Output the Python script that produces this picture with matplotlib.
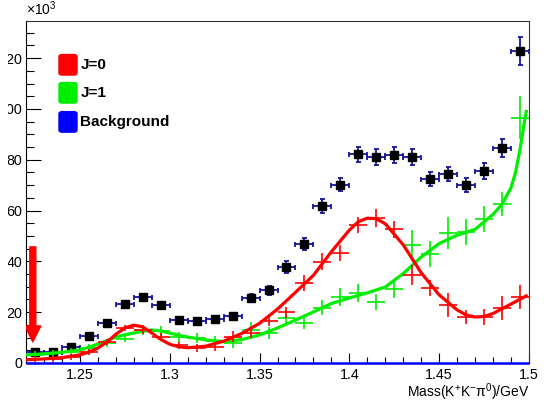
import matplotlib
matplotlib.use('Agg')
import matplotlib.pyplot as plt
from matplotlib.patches import FancyBboxPatch, FancyArrowPatch, Rectangle
from matplotlib.ticker import MultipleLocator, FuncFormatter

plt.rcParams['font.family'] = ['Liberation Sans', 'DejaVu Sans']
plt.rcParams['mathtext.fontset'] = 'custom'
plt.rcParams['mathtext.rm'] = 'Liberation Sans'

# bin centres, GeV
mass = [1.225, 1.235, 1.245, 1.255, 1.265, 1.275, 1.285, 1.295, 1.305, 1.315,
        1.325, 1.335, 1.345, 1.355, 1.365, 1.375, 1.385, 1.395, 1.405, 1.415,
        1.425, 1.435, 1.445, 1.455, 1.465, 1.475, 1.485, 1.495]

# all events (x1e3)
total = [4.3, 4.3, 6.3, 10.6, 15.7, 23.3, 26.0, 22.8, 16.9, 16.5,
         17.3, 18.5, 25.6, 28.7, 37.8, 46.8, 61.8, 70.1, 82.1, 81.1,
         81.9, 81.1, 72.4, 74.4, 70.1, 75.6, 84.6, 122.8]
total_err = [1.0, 1.0, 1.0, 1.0, 1.0, 1.0, 1.0, 1.0, 1.0, 1.0,
             1.0, 1.0, 1.4, 1.8, 2.2, 2.3, 2.6, 2.6, 3.0, 3.0,
             3.0, 3.0, 2.9, 2.9, 2.9, 3.0, 3.7, 5.6]

# J=0 component
j0 = [1.5, 1.7, 2.5, 4.2, 8.1, 13.6, 12.8, 10.2, 6.9, 6.0,
      6.3, 10.4, 12.0, 16.5, 19.9, 31.5, 39.8, 43.3, 54.3, 57.0,
      52.6, 34.6, 29.5, 22.8, 18.1, 18.1, 21.7, 26.0]
j0_err = [1.2, 1.2, 1.2, 1.2, 1.2, 1.2, 1.5, 1.5, 1.5, 1.5,
          1.5, 2.0, 2.0, 2.0, 2.0, 3.0, 3.3, 3.3, 3.0, 3.6,
          3.3, 3.9, 3.3, 4.6, 2.6, 3.0, 4.6, 4.8]

# J=1 component
j1 = [3.3, 3.8, 4.5, 6.0, 7.9, 9.6, 13.0, 12.6, 10.2, 10.0,
      8.5, 7.9, 13.0, 11.8, 17.7, 15.7, 21.7, 26.0, 27.6, 24.0,
      29.1, 46.5, 42.9, 51.2, 51.6, 56.7, 62.6, 96.5]
j1_err = [1.5, 1.5, 1.5, 1.5, 1.5, 1.5, 2.0, 2.0, 2.0, 2.0,
          2.0, 2.0, 3.0, 2.5, 3.3, 2.5, 3.0, 3.5, 3.5, 3.3,
          3.6, 5.9, 5.2, 6.4, 5.2, 5.0, 4.8, 8.4]

# background component, empty
bkg = [0.0] * len(mass)

# smooth fit curves
fit_x = [1.22, 1.23, 1.24, 1.25, 1.255, 1.26, 1.265, 1.27, 1.275, 1.28,
         1.285, 1.29, 1.295, 1.30, 1.305, 1.31, 1.32, 1.33, 1.34, 1.35,
         1.36, 1.37, 1.38, 1.39, 1.40, 1.405, 1.41, 1.415, 1.42, 1.43,
         1.44, 1.45, 1.46, 1.465, 1.47, 1.475, 1.48, 1.49, 1.4985]
fit_j0 = [1.3, 1.6, 2.1, 3.2, 4.3, 5.9, 8.2, 11.3, 13.8, 14.9,
          14.2, 11.8, 9.3, 7.4, 6.4, 6.0, 6.6, 8.6, 11.6, 15.6,
          21.2, 27.8, 34.5, 43.8, 52.3, 55.6, 57.0, 56.8, 54.8, 46.5,
          35.5, 26.8, 20.9, 18.9, 18.1, 18.3, 19.5, 23.2, 26.4]

fit1_x = [1.22, 1.23, 1.24, 1.25, 1.255, 1.26, 1.265, 1.27, 1.275, 1.28,
          1.285, 1.29, 1.295, 1.30, 1.305, 1.31, 1.32, 1.33, 1.34, 1.35,
          1.36, 1.37, 1.38, 1.39, 1.40, 1.41, 1.42, 1.43, 1.44, 1.45,
          1.46, 1.47, 1.48, 1.485, 1.49, 1.4925, 1.495, 1.497, 1.4985]
fit_j1 = [3.2, 3.6, 4.2, 5.1, 6.2, 7.5, 8.8, 10.2, 11.1, 11.8,
          12.5, 13.0, 12.6, 11.8, 10.9, 10.2, 9.1, 8.4, 9.2, 11.0,
          13.8, 16.9, 20.1, 23.4, 25.6, 27.6, 29.9, 35.2, 41.7, 47.0,
          50.3, 52.6, 58.5, 62.5, 69.0, 75.0, 84.0, 93.0, 99.0]

labels = ['J=0', 'J=1', 'Background']
colors = ['#ff0000', '#00ee00', '#0000ff']

arrow_x = 1.2238
arrow_top = 45.7
arrow_tip = 8.3

W, H = 5.52, 4.01
fig = plt.figure(figsize=(W, H), dpi=100)
ax = fig.add_axes([0.26 / W, 0.38 / H, 5.03 / W, 3.42 / H])

# background as a histogram over the full range
half = 0.005
edges = [m - half for m in mass] + [mass[-1] + half]
ax.stairs(bkg, edges, color=colors[2], lw=1.8, zorder=3, clip_on=False)

ax.errorbar(mass, total, xerr=half, yerr=total_err, fmt='s', ms=5.2,
            mfc='black', mec='black', ecolor='#1414a0', elinewidth=1.3,
            capsize=1.8, capthick=1.3, zorder=4)

ax.errorbar(mass, j1, xerr=half, yerr=j1_err, fmt='none', ecolor=colors[1],
            elinewidth=1.2, zorder=5)
ax.plot(fit1_x, fit_j1, color=colors[1], lw=2.3, zorder=5)

ax.errorbar(mass, j0, xerr=half, yerr=j0_err, fmt='none', ecolor=colors[0],
            elinewidth=1.2, zorder=6)
ax.plot(fit_x, fit_j0, color=colors[0], lw=2.3, zorder=6)

arr = FancyArrowPatch((arrow_x, arrow_top), (arrow_x, arrow_tip),
                      arrowstyle='simple,head_length=11.5,head_width=11.5,tail_width=4.3',
                      mutation_scale=1, color='red', shrinkA=0, shrinkB=0, zorder=7)
ax.add_patch(arr)

ax.set_xlim(1.22, 1.5)
ax.set_ylim(0, 134.6)
ax.set_xticks([1.25, 1.3, 1.35, 1.4, 1.45, 1.5])
ax.xaxis.set_major_formatter(FuncFormatter(lambda v, p: f'{v:g}'))
ax.xaxis.set_minor_locator(MultipleLocator(0.01))
ax.set_yticks([0, 20, 40, 60, 80, 100, 120])
ax.yaxis.set_minor_locator(MultipleLocator(5))

ax.tick_params(axis='both', which='both', direction='in', width=0.8, labelsize=10.3)
ax.tick_params(axis='y', which='major', length=10.8, pad=2.5)
ax.tick_params(axis='y', which='minor', length=5.8)
ax.tick_params(axis='x', which='major', length=7.2, pad=3.5)
ax.tick_params(axis='x', which='minor', length=4)

for s in ax.spines.values():
    s.set_linewidth(0.8)
ax.spines['top'].set_color('#333333')
ax.spines['right'].set_color('#333333')

ax.text(0.0, 1.008, r'$\times10^{3}$', transform=ax.transAxes,
        ha='left', va='bottom', fontsize=10)
ax.text(1.0, -0.084, 'Mass(K$^{+}$K$^{-}$\u03c0$^{0}$)/GeV', transform=ax.transAxes,
        ha='right', va='center', fontsize=10)

# legend: rounded colour squares
box_y = [0.842, 0.760, 0.675]
for lab, col, y in zip(labels, colors, box_y):
    ax.add_patch(FancyBboxPatch((0.0656, y), 0.0358, 0.060,
                                boxstyle='round,pad=0,rounding_size=0.006',
                                transform=ax.transAxes, fc=col, ec=col, zorder=8))
    ax.text(0.108, y + 0.030, lab, transform=ax.transAxes, fontsize=11,
            fontweight='bold', va='center', ha='left', zorder=8)

# the original canvas is cut at the left edge, so the hundreds digit is lost
fig.add_artist(Rectangle((0, 0), 7.5 / 552, 1, transform=fig.transFigure,
                         fc='white', ec='none', zorder=20))

fig.savefig('out.png', dpi=100)
